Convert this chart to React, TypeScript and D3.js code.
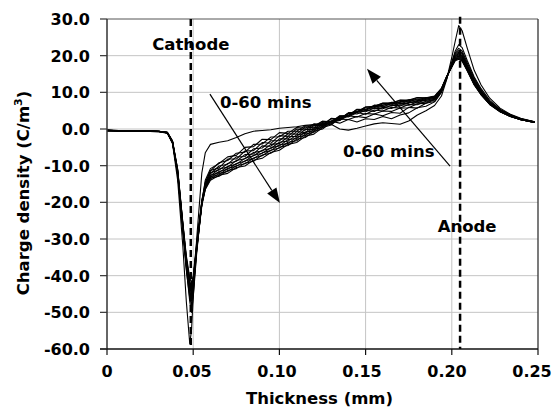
import React from "react";
import * as d3 from "d3";

// ---------- data ----------
const thickness = [
  0, 0.01, 0.02, 0.03, 0.035, 0.038, 0.041, 0.044, 0.046, 0.048, 0.049, 0.05, 0.052, 0.055, 0.057,
  0.06, 0.065, 0.07, 0.075, 0.08, 0.085, 0.09, 0.095, 0.1, 0.105, 0.11, 0.115, 0.12, 0.125, 0.13,
  0.135, 0.14, 0.145, 0.15, 0.155, 0.16, 0.165, 0.17, 0.175, 0.18, 0.185, 0.19,
  0.194, 0.197, 0.2, 0.202, 0.204, 0.206, 0.209, 0.213, 0.217, 0.222, 0.228, 0.234, 0.24, 0.248,
];

const s00 = [
  -0.3, -0.5, -0.4, -0.6, -1.0, -4.0, -14.0, -32.0, -47.0, -58.5, -55.0, -46.0, -30.0, -12.0, -6.5,
  -4.2, -3.6, -3.2, -2.3, -1.3, -0.6, -0.4, -0.2, 0.2, 0.4, 0.6, 1.0, 1.2, 1.5, 1.3, 0.0, -0.3, 0.2, 0.8, 1.4, 1.7, 1.5, 1.3, 2.2, 3.8, 5.0, 6.4,
  9.0, 13.5, 19.5, 24.0, 28.2, 26.8, 22.0, 16.0, 12.0, 8.4, 5.7, 4.0, 2.9, 2.0,
];
const s05 = [
  -0.4, -0.5, -0.5, -0.6, -0.9, -3.4, -11.5, -26.5, -38.0, -47.0, -50.0, -46.0, -34.0, -20.0, -14.0,
  -10.8, -9.4, -7.6, -7.2, -5.0, -4.8, -2.8, -2.9, -1.0, -1.2, 0.4, 0.2, 1.4, 1.0, 2.1, 1.6, 2.6, 1.9, 2.8, 2.6, 3.4, 2.8, 3.8, 4.4, 5.8, 6.2, 7.4,
  10.0, 13.6, 18.2, 21.3, 23.0, 22.2, 18.6, 14.2, 11.0, 7.8, 5.4, 3.9, 2.8, 2.0,
];
const s10 = [
  -0.3, -0.6, -0.4, -0.7, -1.0, -3.6, -12.0, -27.0, -37.0, -45.0, -47.0, -44.0, -33.0, -19.5, -14.5,
  -11.4, -9.2, -8.6, -6.6, -6.3, -4.2, -4.1, -2.2, -2.1, -0.6, -0.6, 0.9, 0.8, 2.1, 1.9, 2.7, 2.6, 3.4, 3.1, 4.1, 3.6, 4.5, 4.3, 5.9, 5.7, 7.0, 7.5,
  10.2, 13.8, 18.0, 20.8, 22.0, 21.3, 18.0, 13.8, 10.6, 7.5, 5.2, 3.8, 2.8, 2.0,
];
const s15 = [
  -0.5, -0.4, -0.6, -0.6, -1.1, -3.5, -12.5, -27.5, -36.5, -43.0, -45.0, -42.0, -32.5, -20.5, -15.0,
  -11.3, -10.6, -8.2, -8.2, -6.0, -5.9, -3.7, -3.9, -1.8, -2.0, 0.0, -0.3, 1.3, 1.2, 2.8, 2.4, 3.6, 3.3, 4.2, 4.1, 4.9, 4.8, 5.7, 5.8, 6.9, 7.0, 8.0,
  10.3, 13.9, 17.8, 20.4, 21.4, 20.8, 17.5, 13.4, 10.4, 7.4, 5.1, 3.7, 2.7, 1.9,
];
const s20 = [
  -0.4, -0.5, -0.5, -0.8, -1.0, -3.8, -12.0, -28.0, -38.5, -46.0, -48.0, -45.0, -33.5, -20.0, -15.0,
  -12.2, -10.1, -9.6, -7.6, -7.5, -5.4, -5.2, -3.2, -3.2, -1.3, -1.4, 0.6, 0.3, 2.1, 2.0, 3.4, 3.3, 4.5, 4.0, 5.2, 4.9, 5.9, 5.7, 6.7, 6.6, 7.6, 7.9,
  10.4, 13.9, 17.6, 20.1, 21.0, 20.4, 17.2, 13.1, 10.1, 7.2, 5.0, 3.7, 2.7, 1.9,
];
const s25 = [
  -0.3, -0.6, -0.5, -0.6, -0.9, -3.3, -11.0, -26.0, -35.5, -42.0, -44.0, -41.0, -31.5, -19.5, -15.5,
  -11.9, -11.2, -9.4, -8.8, -7.0, -6.8, -4.6, -4.7, -2.7, -2.7, -0.7, -1.0, 1.0, 0.9, 2.9, 2.7, 4.3, 4.1, 5.1, 4.8, 5.9, 5.6, 6.6, 6.5, 7.4, 7.3, 8.2,
  10.5, 14.0, 17.5, 19.8, 20.6, 20.0, 17.0, 12.9, 10.0, 7.1, 5.0, 3.6, 2.6, 1.9,
];
const s30 = [
  -0.5, -0.5, -0.4, -0.7, -1.2, -3.7, -12.5, -27.0, -37.0, -44.0, -46.0, -43.5, -33.0, -20.5, -15.5,
  -12.8, -10.9, -10.4, -8.6, -8.1, -6.4, -6.0, -4.2, -4.0, -2.1, -2.0, -0.1, -0.1, 1.8, 1.9, 3.6, 3.6, 4.9, 4.7, 5.7, 5.5, 6.5, 6.3, 7.3, 7.1, 8.1, 8.2,
  10.6, 14.0, 17.4, 19.6, 20.3, 19.7, 16.7, 12.7, 9.8, 7.0, 4.9, 3.6, 2.6, 1.9,
];
const s35 = [
  -0.4, -0.4, -0.6, -0.6, -1.0, -3.5, -11.5, -26.0, -35.0, -41.5, -43.0, -41.0, -32.0, -20.0, -15.8,
  -12.6, -11.9, -10.2, -9.6, -8.0, -7.3, -5.8, -5.3, -3.6, -3.3, -1.6, -1.2, 0.3, 0.7, 2.2, 2.8, 4.4, 4.6, 5.4, 5.6, 6.2, 6.3, 7.0, 7.0, 7.8, 7.8, 8.4,
  10.7, 14.1, 17.3, 19.4, 20.0, 19.4, 16.5, 12.6, 9.7, 6.9, 4.9, 3.5, 2.6, 1.8,
];
const s40 = [
  -0.4, -0.6, -0.5, -0.7, -1.1, -3.6, -12.0, -27.0, -36.5, -43.0, -45.0, -42.5, -32.5, -20.5, -16.0,
  -13.2, -11.6, -11.0, -9.4, -8.8, -7.2, -6.6, -5.1, -4.6, -2.9, -2.6, -0.8, -0.5, 1.4, 1.5, 3.5, 3.7, 5.3, 5.1, 6.2, 6.0, 7.0, 6.8, 7.7, 7.5, 8.4, 8.4,
  10.8, 14.1, 17.2, 19.2, 19.8, 19.2, 16.3, 12.4, 9.6, 6.9, 4.8, 3.5, 2.6, 1.8,
];
const s45 = [
  -0.3, -0.5, -0.5, -0.6, -0.9, -3.2, -11.0, -25.5, -34.5, -40.5, -42.0, -40.0, -31.0, -20.0, -16.0,
  -13.0, -12.5, -10.7, -10.2, -8.7, -8.1, -6.5, -5.9, -4.3, -4.0, -2.2, -1.8, -0.1, 0.4, 2.2, 2.5, 4.4, 4.6, 5.8, 5.8, 6.8, 6.6, 7.5, 7.4, 8.2, 8.1, 8.7,
  10.9, 14.2, 17.1, 19.0, 19.6, 19.0, 16.2, 12.3, 9.5, 6.8, 4.8, 3.5, 2.5, 1.8,
];
const s50 = [
  -0.5, -0.5, -0.4, -0.7, -1.0, -3.5, -12.0, -26.5, -36.0, -42.5, -44.0, -41.5, -32.0, -20.5, -16.2,
  -13.6, -12.1, -11.6, -10.0, -9.5, -7.9, -7.3, -5.8, -5.2, -3.6, -3.2, -1.4, -0.9, 0.8, 1.3, 3.2, 3.6, 5.4, 5.3, 6.5, 6.4, 7.3, 7.2, 8.0, 7.9, 8.6, 8.6,
  11.0, 14.2, 17.0, 18.9, 19.4, 18.8, 16.0, 12.2, 9.4, 6.8, 4.8, 3.4, 2.5, 1.8,
];
const s55 = [
  -0.4, -0.6, -0.6, -0.6, -1.1, -3.8, -12.5, -27.5, -37.5, -44.5, -46.0, -43.0, -33.0, -21.0, -16.4,
  -13.4, -12.9, -11.3, -10.8, -9.3, -8.8, -7.1, -6.6, -5.0, -4.5, -2.8, -2.3, -0.6, 0.0, 1.8, 2.3, 4.1, 4.7, 6.0, 6.1, 7.0, 7.0, 7.8, 7.7, 8.5, 8.4, 8.9,
  11.0, 14.3, 17.0, 18.8, 19.2, 18.6, 15.9, 12.1, 9.4, 6.7, 4.7, 3.4, 2.5, 1.8,
];
const s60 = [
  -0.4, -0.5, -0.5, -0.7, -1.0, -3.4, -11.5, -26.0, -35.5, -42.0, -43.0, -41.0, -32.0, -20.5, -16.5,
  -14.0, -12.6, -12.1, -10.5, -10.1, -8.5, -8.0, -6.4, -5.8, -4.2, -3.7, -2.0, -1.4, 0.4, 1.1, 3.0, 3.6, 4.6, 6.0, 6.2, 7.1, 7.1, 7.9, 7.9, 8.6, 8.5, 9.0,
  11.1, 14.3, 16.9, 18.6, 19.0, 18.5, 15.8, 12.0, 9.3, 6.7, 4.7, 3.4, 2.5, 1.8,
];

const seriesList = [s00, s05, s10, s15, s20, s25, s30, s35, s40, s45, s50, s55, s60];

const yTicks = [30, 20, 10, 0, -10, -20, -30, -40, -50, -60];
const yTickLabels = ["30.0", "20.0", "10.0", "0.0", "-10.0", "-20.0", "-30.0", "-40.0", "-50.0", "-60.0"];
const xTicks = [0, 0.05, 0.1, 0.15, 0.2, 0.25];
const xTickLabels = ["0", "0.05", "0.10", "0.15", "0.20", "0.25"];

const cathodeX = 0.0486;
const anodeX = 0.2048;

// ---------- chart ----------
const W = 556;
const H = 410;
const FONT = "'DejaVu Sans', Verdana, sans-serif";

export default function App() {
  const x = d3.scaleLinear().domain([0, 0.25]).range([107, 538]);
  const y = d3.scaleLinear().domain([-60, 30]).range([349, 19]);
  const line = d3
    .line<number>()
    .x((_, i) => x(thickness[i]))
    .y((d) => y(d));

  const arrow = (x1: number, y1: number, x2: number, y2: number, key: string) => {
    const px1 = x(x1), py1 = y(y1), px2 = x(x2), py2 = y(y2);
    const ang = Math.atan2(py2 - py1, px2 - px1);
    const L = 15, Wd = 5.5;
    const bx = px2 - L * Math.cos(ang), by = py2 - L * Math.sin(ang);
    const nx = -Math.sin(ang), ny = Math.cos(ang);
    const pts = `${px2},${py2} ${bx + nx * Wd},${by + ny * Wd} ${bx - nx * Wd},${by - ny * Wd}`;
    return (
      <g key={key}>
        <line x1={px1} y1={py1} x2={bx} y2={by} stroke="#000" strokeWidth={1.2} />
        <polygon points={pts} fill="#000" />
      </g>
    );
  };

  return (
    <svg
      width={W}
      height={H}
      style={{ position: "fixed", left: 0, top: 0, background: "#fff" }}
      fontFamily={FONT}
    >
      <rect x={0} y={0} width={W} height={H} fill="#fff" />
      {/* grid */}
      {yTicks.slice(1, -1).map((t) => (
        <line key={"gy" + t} x1={x(0)} x2={x(0.25)} y1={y(t)} y2={y(t)} stroke="#c4c4c4" strokeWidth={1} />
      ))}
      {xTicks.slice(1, -1).map((t) => (
        <line key={"gx" + t} x1={x(t)} x2={x(t)} y1={y(30)} y2={y(-60)} stroke="#c4c4c4" strokeWidth={1} />
      ))}
      {/* frame */}
      <line x1={x(0)} x2={x(0.25)} y1={y(30)} y2={y(30)} stroke="#555" strokeWidth={1} />
      <line x1={x(0.25)} x2={x(0.25)} y1={y(30)} y2={y(-60)} stroke="#333" strokeWidth={1.3} />

      {/* series */}
      {seriesList.map((s, i) => (
        <path key={"s" + i} d={line(s) || ""} fill="none" stroke="#000" strokeWidth={1.1} strokeLinejoin="round" />
      ))}

      {/* annotations */}
      <text x={x(cathodeX)} y={50} textAnchor="middle" fontSize={16.5} fontWeight="bold">Cathode</text>
      <text x={x(anodeX) + 7} y={232} textAnchor="middle" fontSize={16.5} fontWeight="bold">Anode</text>
      <text x={220} y={108} fontSize={16.5} fontWeight="bold">0-60 mins</text>
      <text x={343} y={157} fontSize={16.5} fontWeight="bold">0-60 mins</text>
      {arrow(0.0597, 9.5, 0.1003, -20.2, "a1")}
      {arrow(0.199, -10.1, 0.1508, 16.4, "a2")}

      {/* electrode lines */}
      <line x1={x(cathodeX)} x2={x(cathodeX)} y1={y(30)} y2={y(-60)} stroke="#000" strokeWidth={2.5} strokeDasharray="7 4" />
      <line x1={x(anodeX)} x2={x(anodeX)} y1={y(30.6)} y2={y(-60)} stroke="#000" strokeWidth={2.5} strokeDasharray="7 4" />

      {/* axes */}
      <line x1={x(0)} x2={x(0)} y1={y(30)} y2={y(-60)} stroke="#333" strokeWidth={1.5} />
      <line x1={x(0) - 7} x2={x(0.25)} y1={y(-60)} y2={y(-60)} stroke="#111" strokeWidth={1.5} />
      {yTicks.map((t, i) => (
        <g key={"yt" + t}>
          <line x1={x(0) - 7} x2={x(0)} y1={y(t)} y2={y(t)} stroke="#333" strokeWidth={1.2} />
          <text x={90} y={y(t) + 6} textAnchor="end" fontSize={16} fontWeight="bold">{yTickLabels[i]}</text>
        </g>
      ))}
      {xTicks.map((t, i) => (
        <g key={"xt" + t}>
          <line x1={x(t)} x2={x(t)} y1={y(-60)} y2={y(-60) + 6} stroke="#111" strokeWidth={1.2} />
          <text x={x(t) - t * 24} y={377} textAnchor="middle" fontSize={16} fontWeight="bold">{xTickLabels[i]}</text>
        </g>
      ))}
      <text x={x(0.125) - 3} y={404} textAnchor="middle" fontSize={16.5} fontWeight="bold">Thickness (mm)</text>
      <text transform={`translate(29,${193}) rotate(-90)`} textAnchor="middle" fontSize={16.5} fontWeight="bold">
        Charge density (C/m<tspan dy={-7} fontSize={11}>3</tspan><tspan dy={7}>)</tspan>
      </text>
    </svg>
  );
}
